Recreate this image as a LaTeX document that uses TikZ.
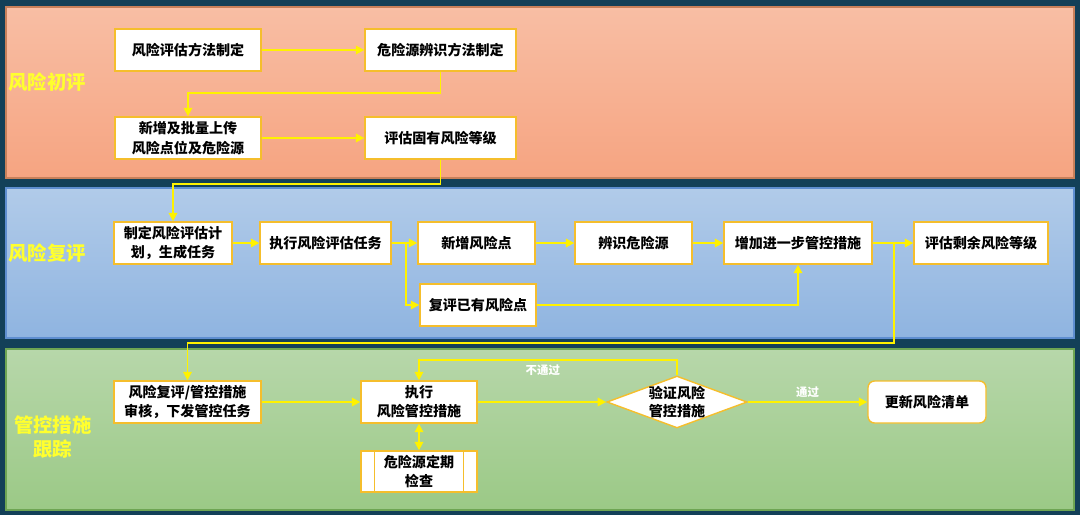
\documentclass[tikz,border=0pt]{standalone}
\usepackage{fontspec}
\setmainfont{Noto Sans CJK SC}
\usepackage{tikz}
\usetikzlibrary{arrows.meta,positioning,shapes.geometric,calc}
\tikzset{
  flowarrow/.style={-{Triangle[length=1.7mm,width=1.7mm]}, line width=1.1pt, draw=FlowYellow},
  flowline/.style={line width=1.1pt, draw=FlowYellow},
  edgelabel/.style={font=\fontsize{6.5}{8}\selectfont\bfseries, text=white, inner sep=2pt}
}
\definecolor{NavyBg}{HTML}{134058}
\definecolor{FlowYellow}{HTML}{FFF200}
\definecolor{BoxGold}{HTML}{F5BE2C}
\definecolor{LabelYellow}{HTML}{FFFF2E}
\definecolor{OrangeTop}{HTML}{F8BEA4}
\definecolor{OrangeBot}{HTML}{F6A481}
\definecolor{OrangeEdge}{HTML}{C8805A}
\definecolor{BlueTop}{HTML}{B1CBE9}
\definecolor{BlueBot}{HTML}{8FB4E0}
\definecolor{BlueEdge}{HTML}{5E8ED0}
\definecolor{GreenTop}{HTML}{B7D7AA}
\definecolor{GreenBot}{HTML}{9BC986}
\definecolor{GreenEdge}{HTML}{6EA553}

\begin{document}
\begin{tikzpicture}[
  font=\fontsize{8}{11}\selectfont\bfseries,
  stepbox/.style={draw=BoxGold, line width=0.8pt, fill=white, align=center, minimum height=0.84cm, inner sep=2pt},
  checkbox/.style={stepbox, shape=diamond, aspect=2.7, inner sep=0pt, font=\fontsize{8}{10}\selectfont\bfseries},
  bandlabel/.style={font=\fontsize{11}{14}\selectfont\bfseries, text=LabelYellow, align=center},
  band/.style={line width=0.6pt}
]
\fill[NavyBg] (0,0) rectangle (21.6,-10.3);
\shadedraw[band, top color=OrangeTop, bottom color=OrangeBot, draw=OrangeEdge] (0.12,-0.14) rectangle (21.48,-3.56);
\shadedraw[band, top color=BlueTop, bottom color=BlueBot, draw=BlueEdge] (0.12,-3.76) rectangle (21.48,-6.76);
\shadedraw[band, top color=GreenTop, bottom color=GreenBot, draw=GreenEdge] (0.12,-6.98) rectangle (21.48,-10.2);

\node[bandlabel] at (0.94,-1.64) (initial) {风险初评};
\node[bandlabel] at (0.94,-5.06) (review) {风险复评};
\node[bandlabel] at (1.06,-8.74) (tracking) {管控措施\\跟踪};

\node[stepbox, minimum width=2.92cm] at (3.76,-1.00) (method) {风险评估方法制定};
\node[stepbox, minimum width=3.02cm] at (8.81,-1.00) (hazmethod) {危险源辨识方法制定};
\node[stepbox, minimum width=2.92cm] at (3.76,-2.76) (upload) {新增及批量上传\\风险点位及危险源};
\node[stepbox, minimum width=3.02cm] at (8.81,-2.76) (inherent) {评估固有风险等级};

\node[stepbox, minimum width=2.36cm] at (3.46,-4.86) (plan) {制定风险评估计\\划，生成任务};
\node[stepbox, minimum width=2.62cm] at (6.51,-4.86) (task) {执行风险评估任务};
\node[stepbox, minimum width=2.34cm] at (9.53,-4.86) (newpoint) {新增风险点};
\node[stepbox, minimum width=2.34cm] at (12.67,-4.86) (hazard) {辨识危险源};
\node[stepbox, minimum width=2.96cm] at (15.96,-4.86) (measure) {增加进一步管控措施};
\node[stepbox, minimum width=2.68cm] at (19.62,-4.86) (residual) {评估剩余风险等级};
\node[stepbox, minimum width=2.32cm] at (9.56,-6.10) (oldpoint) {复评已有风险点};

\node[stepbox, minimum width=2.94cm] at (3.75,-8.04) (audit) {风险复评/管控措施\\审核，下发管控任务};
\node[stepbox, minimum width=2.32cm] at (8.38,-8.04) (execute) {执行\\风险管控措施};
\node[stepbox, minimum width=2.32cm, minimum height=0.82cm] at (8.38,-9.43) (inspect) {危险源定期\\检查};
\node[checkbox] at (13.54,-8.04) (verify) {验证风险\\管控措施};
\node[stepbox, minimum width=2.36cm, rounded corners=0.13cm] at (18.54,-8.04) (update) {更新风险清单};

\draw[draw=BoxGold, line width=0.8pt] ([xshift=0.28cm]inspect.north west) -- ([xshift=0.28cm]inspect.south west);
\draw[draw=BoxGold, line width=0.8pt] ([xshift=-0.28cm]inspect.north east) -- ([xshift=-0.28cm]inspect.south east);

\draw[flowarrow] (method) -- (hazmethod);
\draw[flowarrow] (hazmethod.south) -- ++(0,-0.42) -| (upload.north);
\draw[flowarrow] (upload) -- (inherent);
\draw[flowarrow] (inherent.south) -- ++(0,-0.48) -| (plan.north);

\draw[flowarrow] (plan) -- (task);
\draw[flowarrow] (task) -- (newpoint);
\draw[flowarrow] (task.east) -- ++(0.28,0) |- (oldpoint.west);
\draw[flowarrow] (newpoint) -- (hazard);
\draw[flowarrow] (hazard) -- (measure);
\draw[flowarrow] (oldpoint.east) -| (measure.south);
\draw[flowarrow] (measure) -- (residual);
\draw[flowarrow] (measure.east) -- ++(0.42,0) -- ++(0,-2.0) -| (audit.north);

\draw[flowarrow] (audit) -- (execute);
\draw[flowarrow] (execute) -- (verify);
\draw[flowarrow] (verify.north) |- node[edgelabel, below, pos=0.76]{不通过} ($(execute.north)+(0,0.4)$) -- (execute.north);
\draw[flowarrow] (verify) -- node[edgelabel, above]{通过} (update);
\draw[flowarrow, {Triangle[length=1.7mm,width=1.7mm]}-{Triangle[length=1.7mm,width=1.7mm]}] (execute.south) -- (inspect.north);
\end{tikzpicture}
\end{document}
